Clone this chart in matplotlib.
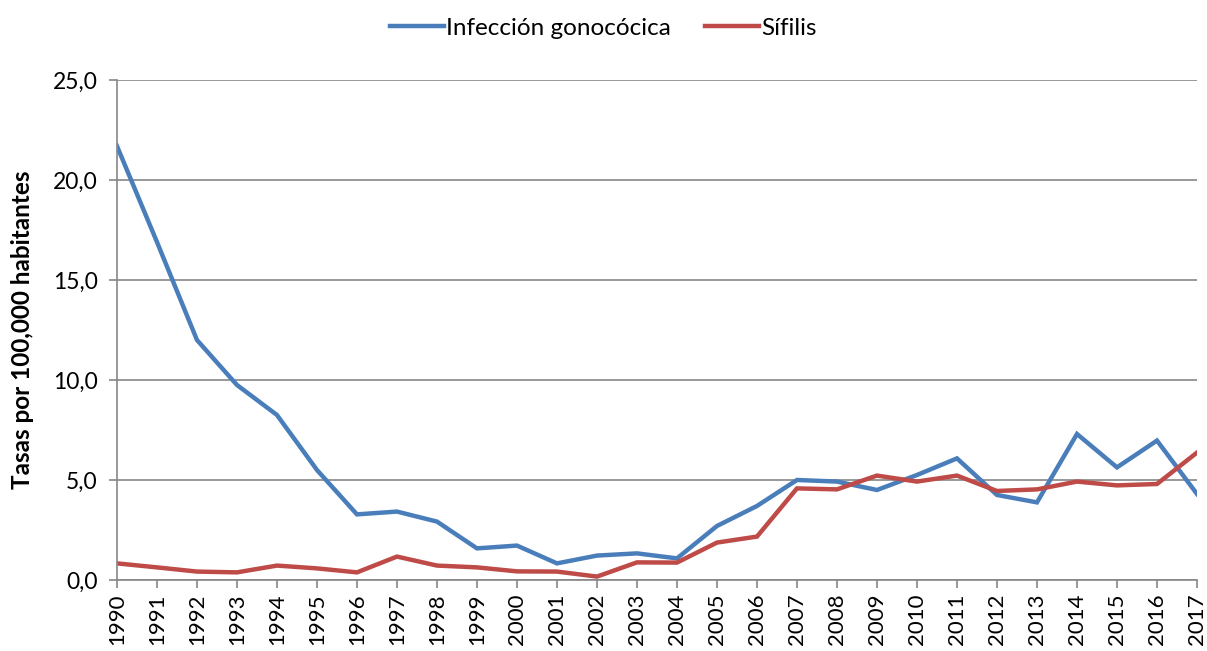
import matplotlib
matplotlib.use("Agg")
import matplotlib.pyplot as plt
from matplotlib.ticker import FuncFormatter

# -------- Data --------
years = list(range(1990, 2018))
gonococica = [21.7, 16.9, 12.0, 9.75, 8.25, 5.5, 3.28, 3.42, 2.92, 1.58,
              1.72, 0.83, 1.22, 1.33, 1.08, 2.7, 3.7, 5.0, 4.92, 4.5,
              5.25, 6.08, 4.25, 3.88, 7.3, 5.63, 6.97, 4.3]
sifilis = [0.83, 0.63, 0.42, 0.38, 0.72, 0.58, 0.38, 1.17, 0.72, 0.63,
           0.43, 0.42, 0.17, 0.88, 0.87, 1.87, 2.17, 4.58, 4.53, 5.22,
           4.92, 5.22, 4.45, 4.53, 4.92, 4.73, 4.8, 6.37]
series_names = ["Infección gonocócica", "Sífilis"]
y_ticks = [0, 5, 10, 15, 20, 25]

# -------- Style --------
plt.rcParams["font.family"] = ["Lato", "DejaVu Sans"]
BLUE = "#4A7EBB"
RED = "#BE4B48"
GRID = "#868686"

fig = plt.figure(figsize=(12.07, 6.51), dpi=100)
ax = fig.add_axes([0.0969, 0.1091, 0.8948, 0.768])

ax.plot(years, gonococica, color=BLUE, lw=3.2, label=series_names[0],
        solid_joinstyle="miter")
ax.plot(years, sifilis, color=RED, lw=3.2, label=series_names[1],
        solid_joinstyle="miter")

ax.set_xlim(years[0], years[-1])
ax.set_ylim(0, 25)
ax.set_yticks(y_ticks)
ax.yaxis.set_major_formatter(FuncFormatter(lambda v, p: f"{v:.1f}".replace(".", ",")))
ax.set_xticks(years)
ax.set_xticklabels([str(y) for y in years], rotation=90)

ax.grid(axis="y", color=GRID, lw=1.2)
ax.set_axisbelow(True)
for side in ["top", "right"]:
    ax.spines[side].set_visible(False)
for side in ["left", "bottom"]:
    ax.spines[side].set_color(GRID)
    ax.spines[side].set_linewidth(1.2)
ax.tick_params(axis="both", colors=GRID, length=6, width=1.2, labelcolor="black",
               labelsize=16)
ax.tick_params(axis="y", labelsize=16.5, pad=8)
ax.tick_params(axis="x", pad=4)

ax.set_ylabel("Tasas por 100,000 habitantes", fontsize=17.5, fontweight="bold")
ax.yaxis.set_label_coords(-0.077, 0.5)

# legend is centred on the figure, not on the axes
fig.legend(loc="upper center", bbox_to_anchor=(0.5, 1.006), ncol=2, frameon=False,
           fontsize=17.5, handlelength=2.2, handletextpad=0.1, columnspacing=1.4)

fig.savefig("out.png", dpi=100)
